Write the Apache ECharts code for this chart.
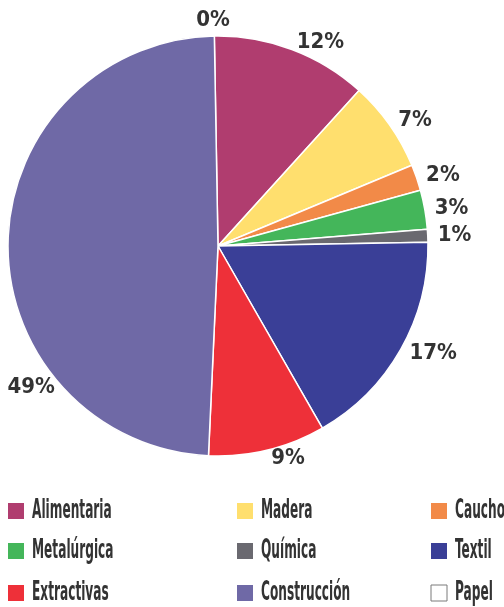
<!DOCTYPE html>
<html>
<head>
<meta charset="utf-8">
<script src="https://cdn.jsdelivr.net/npm/echarts@6/dist/echarts.min.js"></script>
<style>
  html, body { margin: 0; padding: 0; background: #fff; }
  #chart { width: 504px; height: 607px; }
</style>
</head>
<body>
<div id="chart"></div>
<script>
// Sectors, in drawing order (clockwise from the top)
const sectors = ['Alimentaria', 'Madera', 'Caucho', 'Metalúrgica', 'Química', 'Textil', 'Extractivas', 'Construcción', 'Papel'];
const shares = [12, 7, 2, 3, 1, 17, 9, 49, 0];
const colors = ['#B03D6F', '#FFDF6E', '#F28A48', '#44B65A', '#6A6970', '#3A3F97', '#EE3039', '#6F69A6', '#FFFFFF'];

// Legend grid: three columns of three rows
const legendColumns = [
  ['Alimentaria', 'Metalúrgica', 'Extractivas'],
  ['Madera', 'Química', 'Construcción'],
  ['Caucho', 'Textil', 'Papel']
];

const FONT = '"DejaVu Sans Condensed", "DejaVu Sans", sans-serif';
const TEXT = '#333333';
const CX = 218, CY = 246, R = 210;

const chart = echarts.init(document.getElementById('chart'), null, { renderer: 'canvas' });

// Legend swatches and names, in a narrow, tall lettering
const colLeft = [8, 237, 431];
const rowTop = [503, 543, 585];
const legendItems = [];
legendColumns.forEach(function (names, c) {
  names.forEach(function (name, r) {
    const idx = sectors.indexOf(name);
    const isPapel = name === 'Papel';
    legendItems.push({
      type: 'rect',
      x: colLeft[c], y: rowTop[r],
      shape: { x: 0, y: 0, width: 16, height: 16 },
      style: isPapel
        ? { fill: '#FFFFFF', stroke: '#7a7a7a', lineWidth: 1 }
        : { fill: colors[idx] },
      silent: true
    });
    legendItems.push({
      type: 'text',
      x: colLeft[c] + 24, y: rowTop[r] + 8,
      scaleX: 0.52, scaleY: 1,
      style: {
        text: name,
        font: 'bold 26px ' + FONT,
        fill: TEXT,
        textAlign: 'left',
        textVerticalAlign: 'middle',
        verticalAlign: 'middle'
      },
      silent: true
    });
  });
});

chart.setOption({
  animation: false,
  color: colors,
  graphic: { elements: legendItems },
  series: [{
    type: 'pie',
    center: [CX, CY],
    radius: [0, R],
    startAngle: 91,
    clockwise: true,
    avoidLabelOverlap: false,
    itemStyle: { borderColor: '#FFFFFF', borderWidth: 1.5 },
    label: {
      show: true,
      position: 'outside',
      formatter: '{c}%',
      fontFamily: FONT,
      fontWeight: 'bold',
      fontSize: 22,
      color: TEXT,
      distanceToLabelLine: 2
    },
    labelLine: { show: false, length: 8, length2: 0 },
    labelLayout: function (p) {
      // Construcción's label sits in the lower left, the empty sector's label centred on top
      if (p.dataIndex === 7) {
        const a = 233 * Math.PI / 180;
        const rr = R + 24;
        return { x: CX + rr * Math.sin(a), y: CY - rr * Math.cos(a), align: 'center', verticalAlign: 'middle' };
      }
      if (p.dataIndex === 8) {
        return { x: CX - 5, y: CY - R - 16, align: 'center', verticalAlign: 'middle' };
      }
    },
    emphasis: { disabled: true },
    data: sectors.map(function (n, i) {
      const item = { name: n, value: shares[i] };
      if (n === 'Papel') item.itemStyle = { borderWidth: 0 };
      return item;
    })
  }]
});
</script>
</body>
</html>
